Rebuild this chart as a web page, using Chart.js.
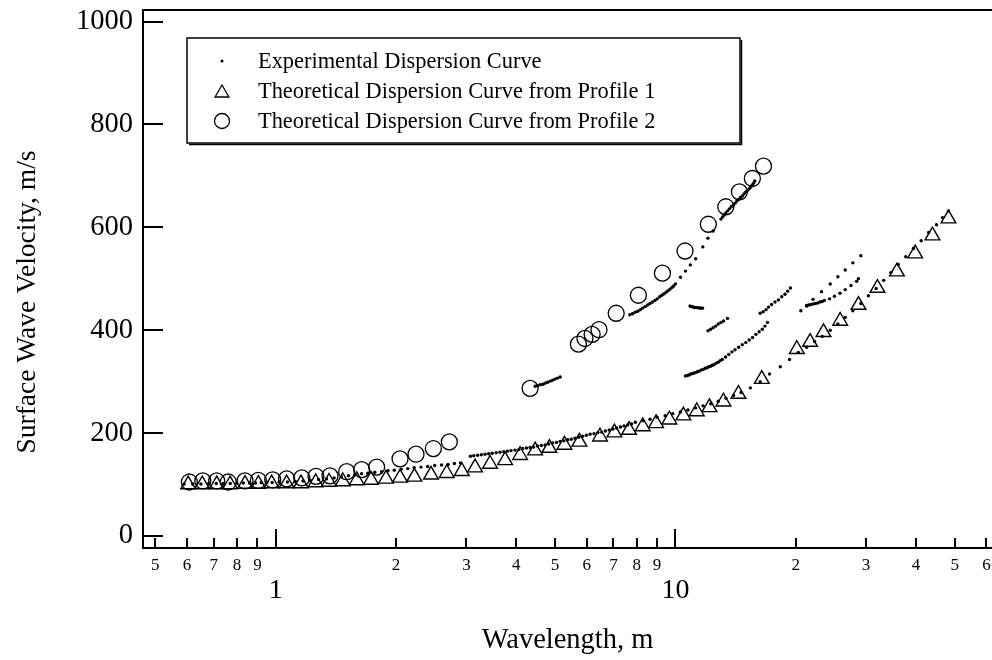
<!DOCTYPE html>
<html>
<head>
<meta charset="utf-8">
<script src="https://cdn.jsdelivr.net/npm/chart.js@4/dist/chart.umd.min.js"></script>
<style>
html,body{margin:0;padding:0;background:#fff;overflow:hidden;width:992px;height:660px;}
canvas{display:block;}
</style>
</head>
<body>
<canvas id="c" width="1002" height="660"></canvas>
<script>
// ---- tick labels ----
const xTickValues = [0.5,0.6,0.7,0.8,0.9,1,2,3,4,5,6,7,8,9,10,20,30,40,50,60];
const xMajorTicks = [1,10];
const yTickValues = [0,200,400,600,800,1000];

// ---- legend / axis texts ----
const seriesNames = [
  'Experimental Dispersion Curve',
  'Theoretical Dispersion Curve from Profile 1',
  'Theoretical Dispersion Curve from Profile 2'
];
const xTitle = 'Wavelength, m';
const yTitle = 'Surface Wave Velocity, m/s';

// ---- Theoretical, Profile 1 (triangles) ----
const profile1Wavelength = [0.604,0.655,0.712,0.769,0.838,0.905,0.977,1.065,1.157,1.259,1.360,1.472,1.595,1.732,1.888,2.047,2.223,2.447,2.679,2.921,3.153,3.438,3.749,4.088,4.457,4.838,5.276,5.751,6.479,7.037,7.658,8.286,8.949,9.66,10.47,11.31,12.17,13.19,14.38,16.45,20.13,21.73,23.47,25.84,28.71,32.03,35.83,39.80,43.97,48.22];
const profile1Velocity   = [100,100,100,100,101,101,102,102,102,104,105,106,108,109,111,113,115,119,122,126,133,140,147,157,166,171,177,183,193,201,206,213,219,226,234,242,250,261,276,305,363,377,396,418,449,482,514,549,584,617];

// ---- Theoretical, Profile 2 (circles) ----
const profile2Wavelength = [0.608,0.657,0.712,0.761,0.838,0.905,0.983,1.065,1.162,1.261,1.367,1.505,1.641,1.789,2.047,2.244,2.48,2.719,4.33,5.72,5.94,6.19,6.44,7.11,8.08,9.28,10.57,12.09,13.37,14.46,15.58,16.61];
const profile2Velocity   = [105,107,107,105,107,108,109,111,113,116,117,125,129,134,150,159,170,183,287,373,384,392,401,433,468,511,554,606,640,669,695,719];

// ---- Experimental dispersion curve, read segment by segment: [wavelength, velocity] ----
const expLow = [[0.59,101],[0.62,101],[0.65,101],[0.68,102],[0.71,102],[0.74,102],[0.77,102],[0.80,103],[0.83,103],[0.86,103],[0.89,103],[0.92,104],[0.95,104],[0.98,104],[1.02,105],[1.07,105],[1.12,106],[1.17,107],[1.22,108],[1.28,110],[1.34,111],[1.40,113],[1.46,115],[1.52,117],[1.58,119],[1.64,121],[1.70,122],[1.77,124],[1.84,125],[1.91,127],[1.98,128],[2.06,130],[2.14,131],[2.22,133],[2.31,134],[2.40,135],[2.50,137],[2.60,138],[2.70,139],[2.80,141],[2.90,142]];
const expMain = [[3.07,155],[3.13,156],[3.2,157],[3.27,158],[3.34,159],[3.41,160],[3.48,161],[3.56,162],[3.64,163],[3.72,164],[3.8,165],[3.88,166],[3.97,167],[4.06,168],[4.15,170],[4.24,171],[4.33,172],[4.42,173],[4.52,175],[4.62,176],[4.72,177],[4.82,179],[4.93,181],[5.04,182],[5.15,184],[5.26,185],[5.38,187],[5.49,188],[5.61,190],[5.73,192],[5.86,194],[5.99,196],[6.12,198],[6.26,199],[6.4,201],[6.54,202],[6.68,204],[6.83,206],[6.98,208],[7.13,210],[7.29,212],[7.44,214],[7.6,216],[7.77,218],[7.94,221],[8.3,224],[8.64,227],[9.0,231],[9.43,234],[9.85,238],[10.29,241],[10.75,245],[11.23,249],[11.73,253],[12.26,257],[12.8,262],[13.38,268],[13.98,273],[14.6,279],[15.4,288],[16.3,300],[17.2,315],[18.3,329],[19.3,343],[20.3,357],[21.3,367],[22.3,378],[23.3,388],[24.4,400],[25.5,412],[26.6,425],[27.8,438],[29.1,452],[30.4,467],[31.8,481],[33.2,497],[34.6,512],[36.1,528],[37.7,543],[39.4,559],[41.2,574],[43.0,590],[45.0,605],[46.6,619],[48.2,632]];
const expShort = [[4.46,291],[4.52,292],[4.59,294],[4.66,295],[4.72,297],[4.79,299],[4.86,301],[4.93,303],[5.0,305],[5.07,307],[5.15,309]];
const expUpper = [[7.69,430],[7.81,432],[7.93,435],[8.05,437],[8.17,440],[8.28,443],[8.4,446],[8.52,449],[8.64,452],[8.76,455],[8.89,458],[9.01,461],[9.14,465],[9.25,468],[9.37,471],[9.48,474],[9.59,477],[9.7,480],[9.8,483],[9.9,486],[10.0,490],[10.3,503],[10.6,515],[10.9,527],[11.24,539],[11.71,562],[12.06,579],[12.43,593],[13.0,616],[13.12,620],[13.25,624],[13.37,628],[13.5,632],[13.65,636],[13.8,640],[13.95,643],[14.1,647],[14.25,651],[14.4,654],[14.55,658],[14.7,661],[14.85,665],[15.0,669],[15.17,672],[15.35,676],[15.47,680],[15.6,683],[15.7,686],[15.8,690]];
const expBlob = [[10.88,447],[10.94,446],[11.0,446],[11.07,445],[11.13,445],[11.2,444],[11.27,444],[11.34,444],[11.4,444],[11.48,443],[11.55,443],[11.62,443],[11.7,443]];
const expDash = [[12.07,399],[12.25,402],[12.43,405],[12.62,408],[12.8,412],[13.0,415],[13.2,418],[13.5,423]];
const expMiddle = [[10.6,311],[10.71,312],[10.82,313],[10.93,315],[11.04,316],[11.15,317],[11.27,318],[11.38,320],[11.5,321],[11.62,323],[11.75,324],[11.87,326],[12.0,327],[12.12,329],[12.25,330],[12.37,332],[12.49,333],[12.65,336],[12.8,338],[12.95,341],[13.1,343],[13.35,348],[13.6,353],[13.85,358],[14.1,362],[14.4,367],[14.7,372],[15.0,376],[15.3,381],[15.6,386],[15.9,392],[16.2,397],[16.5,402],[16.75,408],[17.0,415]];
const expRight1 = [[16.3,433],[16.58,436],[16.86,440],[17.1,445],[17.4,450],[17.75,455],[18.1,459],[18.45,465],[18.8,470],[19.1,476],[19.4,482]];
const expRight2 = [[20.6,438],[21.3,447],[22.1,460],[23.2,475],[24.4,490],[25.5,504],[26.6,517],[27.8,531],[29.1,545]];
const expRight3 = [[21.3,448],[21.55,449],[21.8,450],[22.1,451],[22.4,452],[22.7,453],[23.0,455],[23.3,456],[23.6,458],[24.3,461],[25.0,466],[25.8,472],[26.6,479],[27.5,487],[28.4,495],[28.7,500]];

const expSegments = [expLow, expMain, expShort, expUpper, expBlob, expDash, expMiddle, expRight1, expRight2, expRight3];
const expPoints = [].concat(...expSegments).map(p => ({x: p[0], y: p[1]}));
const p1Points = profile1Wavelength.map((v, i) => ({x: v, y: profile1Velocity[i]}));
const p2Points = profile2Wavelength.map((v, i) => ({x: v, y: profile2Velocity[i]}));

const SERIF = '"Liberation Serif", "Times New Roman", serif';

const decorPlugin = {
  id: 'decor',
  afterDraw(chart) {
    const {ctx, chartArea: {left, right, top, bottom}, scales: {x, y}} = chart;
    ctx.save();
    ctx.strokeStyle = '#000';
    ctx.lineWidth = 2;
    ctx.beginPath();
    x.ticks.forEach(t => {
      const px = Math.round(x.getPixelForValue(t.value));
      const len = xMajorTicks.includes(t.value) ? 19 : 10;
      ctx.moveTo(px, bottom);
      ctx.lineTo(px, bottom - len);
    });
    y.ticks.forEach(t => {
      const py = Math.round(y.getPixelForValue(t.value));
      ctx.moveTo(left, py);
      ctx.lineTo(left + 20, py);
    });
    ctx.moveTo(left, top);
    ctx.lineTo(right, top);
    ctx.stroke();

    // y axis title (placed as in the reference, slightly below centre)
    ctx.save();
    ctx.translate(28, 302);
    ctx.rotate(-Math.PI / 2);
    ctx.fillStyle = '#000';
    ctx.font = '27.5px ' + SERIF;
    ctx.textAlign = 'center';
    ctx.textBaseline = 'middle';
    ctx.fillText(yTitle, 0, 0);
    ctx.restore();

    // legend box
    const bx = 187, by = 38, bw = 553, bh = 105;
    ctx.fillStyle = '#fff';
    ctx.fillRect(bx, by, bw, bh);
    ctx.lineWidth = 1.5;
    ctx.strokeRect(bx, by, bw, bh);
    ctx.beginPath();
    ctx.moveTo(bx + bw + 1.5, by + 2);
    ctx.lineTo(bx + bw + 1.5, by + bh + 1.5);
    ctx.lineTo(bx + 2, by + bh + 1.5);
    ctx.stroke();

    const rows = [61, 91, 121];
    const mx = 222;
    ctx.fillStyle = '#000';
    ctx.beginPath();
    ctx.arc(mx, rows[0], 1.5, 0, Math.PI * 2);
    ctx.fill();
    ctx.lineWidth = 1.3;
    const r = 8;
    ctx.beginPath();
    ctx.moveTo(mx, rows[1] - r + 2);
    ctx.lineTo(mx + r * 0.866, rows[1] + r * 0.5 + 2);
    ctx.lineTo(mx - r * 0.866, rows[1] + r * 0.5 + 2);
    ctx.closePath();
    ctx.stroke();
    ctx.beginPath();
    ctx.arc(mx, rows[2], 7.5, 0, Math.PI * 2);
    ctx.stroke();

    ctx.font = '22.4px ' + SERIF;
    ctx.textAlign = 'left';
    ctx.textBaseline = 'middle';
    seriesNames.forEach((n, i) => ctx.fillText(n, 258, rows[i] + 1));
    ctx.restore();
  }
};

new Chart(document.getElementById('c'), {
  type: 'scatter',
  data: {
    datasets: [
      {label: seriesNames[0], data: expPoints, pointStyle: 'circle', pointRadius: 1.7, pointBackgroundColor: '#000', pointBorderColor: '#000', pointBorderWidth: 0, showLine: false},
      {label: seriesNames[1], data: p1Points, pointStyle: 'triangle', pointRadius: 8.5, pointBackgroundColor: 'rgba(0,0,0,0)', pointBorderColor: '#000', pointBorderWidth: 1.4, showLine: false},
      {label: seriesNames[2], data: p2Points, pointStyle: 'circle', pointRadius: 8, pointBackgroundColor: 'rgba(0,0,0,0)', pointBorderColor: '#000', pointBorderWidth: 1.3, showLine: false}
    ]
  },
  options: {
    responsive: false,
    devicePixelRatio: 1,
    animation: false,
    layout: {padding: {left: 0, right: 0, top: 8, bottom: 0}},
    plugins: {legend: {display: false}, tooltip: {enabled: false}},
    scales: {
      x: {
        type: 'logarithmic',
        position: 'bottom',
        min: 0.4656,
        max: 62.0,
        grid: {display: false, drawTicks: false},
        border: {display: true, color: '#000', width: 2},
        afterBuildTicks: (scale) => { scale.ticks = xTickValues.map(v => ({value: v})); },
        afterFit: (scale) => { scale.height = 112; scale.paddingLeft = 0; scale.paddingRight = 0; },
        ticks: {
          autoSkip: false,
          maxRotation: 0,
          minRotation: 0,
          padding: 7,
          color: '#000',
          font: (ctx) => (ctx.tick && xMajorTicks.includes(ctx.tick.value))
            ? {family: SERIF, size: 28, lineHeight: '24px'}
            : {family: SERIF, size: 17, lineHeight: 1.2},
          callback: (value) => {
            if (xMajorTicks.includes(value)) return ['', String(value)];
            const lead = Math.round(value / Math.pow(10, Math.floor(Math.log10(value) + 1e-9)));
            return String(lead);
          }
        },
        title: {display: true, text: xTitle, color: '#000', font: {family: SERIF, size: 28.5}, padding: {top: 0, bottom: 2}}
      },
      y: {
        type: 'linear',
        position: 'left',
        min: -23.3,
        max: 1022.7,
        grid: {display: false, drawTicks: false},
        border: {display: true, color: '#000', width: 2},
        afterBuildTicks: (scale) => { scale.ticks = yTickValues.map(v => ({value: v})); },
        afterFit: (scale) => { scale.width = 143; scale.paddingTop = 0; scale.paddingBottom = 0; },
        ticks: {
          padding: 10,
          color: '#000',
          font: {family: SERIF, size: 28.5},
          callback: (v) => String(v)
        },
        title: {display: false, text: yTitle}
      }
    }
  },
  plugins: [decorPlugin]
});
</script>
</body>
</html>
